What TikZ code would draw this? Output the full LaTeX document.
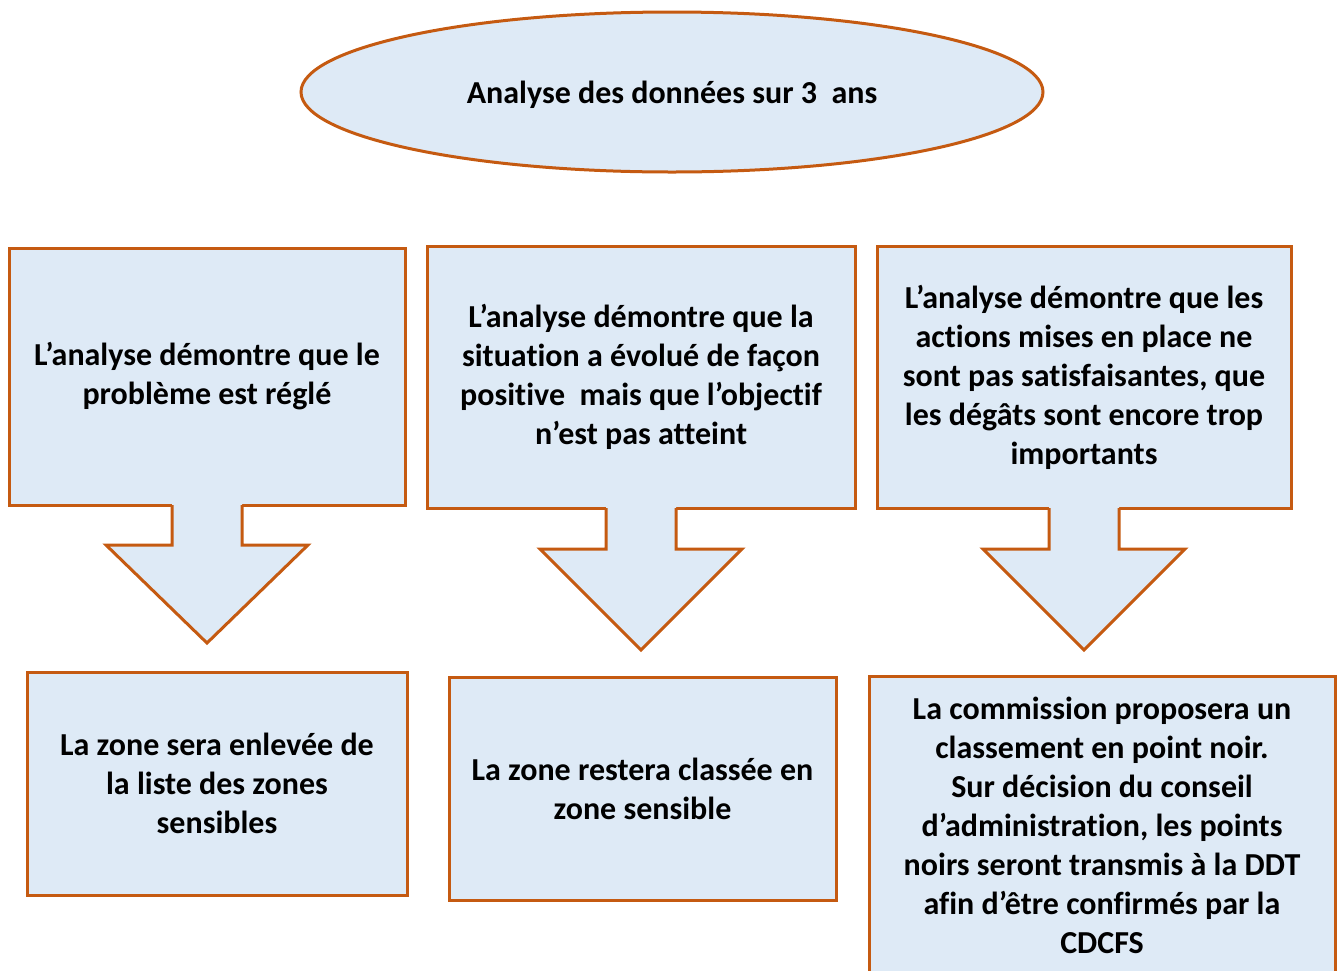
\documentclass[tikz,border=0pt]{standalone}
\usepackage{fontspec}
\setmainfont{Carlito}[Ligatures=NoCommon]
\usetikzlibrary{shapes.geometric,calc}

\definecolor{bleuclair}{RGB}{222,234,246}
\definecolor{orangebord}{RGB}{197,90,17}

% Flèche large vers le bas sous une boîte : #1 boîte, #2 tige, #3 pointe
\newcommand{\flechebas}[3]{%
  \fill[bleuclair] ($(#1.south)+(-35,-4)$) -- ($(#1.south)+(-35,#2)$) -- ($(#1.south)+(-101,#2)$)
    -- ($(#1.south)+(0,#2+#3)$) -- ($(#1.south)+(101,#2)$) -- ($(#1.south)+(35,#2)$) -- ($(#1.south)+(35,-4)$) -- cycle;
  \draw[bord] ($(#1.south)+(-35,0)$) -- ($(#1.south)+(-35,#2)$) -- ($(#1.south)+(-101,#2)$)
    -- ($(#1.south)+(0,#2+#3)$) -- ($(#1.south)+(101,#2)$) -- ($(#1.south)+(35,#2)$) -- ($(#1.south)+(35,0)$);
}

\begin{document}
\begin{tikzpicture}[x=1pt, y=-1pt,
    bord/.style={draw=orangebord, line width=3pt},
    boite/.style={bord, fill=bleuclair, rectangle, align=center, inner sep=0pt, outer sep=0pt,
      font=\fontsize{32}{39}\selectfont\bfseries, execute at begin node={\rule{0pt}{36pt}}},
    bulle/.style={bord, fill=bleuclair, ellipse, inner sep=0pt, outer sep=0pt,
      minimum width=742pt, minimum height=160pt, font=\fontsize{32}{39}\selectfont\bfseries}]
    \useasboundingbox (0,0) rectangle (1342,970);

    % Ellipse du haut
    \node[bulle] (analyse) at (672,92) {\rule{0pt}{28pt}Analyse des données sur 3~~ans};

    % Constats
    \node[boite, minimum width=396pt, minimum height=257pt] (regle) at (207,376.5)
      {L’analyse démontre que le\\problème est réglé};
    \node[boite, minimum width=428pt, minimum height=262pt] (evolue) at (641,377)
      {L’analyse démontre que la\\situation a évolué de façon\\positive~ mais que l’objectif\\n’est pas atteint};
    \node[boite, minimum width=414pt, minimum height=262pt] (insuff) at (1084,377)
      {L’analyse démontre que les\\actions mises en place ne\\sont pas satisfaisantes, que\\les dégâts sont encore trop\\importants};

    % Flèches
    \flechebas{regle}{40}{98}
    \flechebas{evolue}{41}{101}
    \flechebas{insuff}{41}{101}

    % Décisions
    \node[boite, minimum width=380pt, minimum height=223pt] (enlevee) at (217,783.5)
      {La zone sera enlevée de\\la liste des zones\\sensibles};
    \node[boite, minimum width=387pt, minimum height=223pt] (classee) at (642.5,788.5)
      {La zone restera classée en\\zone sensible};
    \node[boite, minimum width=466pt, minimum height=298pt] (pointnoir) at (1102,825)
      {La commission proposera un\\classement en point noir.\\Sur décision du conseil\\d’administration, les points\\noirs seront transmis à la DDT\\afin d’être confirmés par la\\CDCFS};
\end{tikzpicture}
\end{document}
